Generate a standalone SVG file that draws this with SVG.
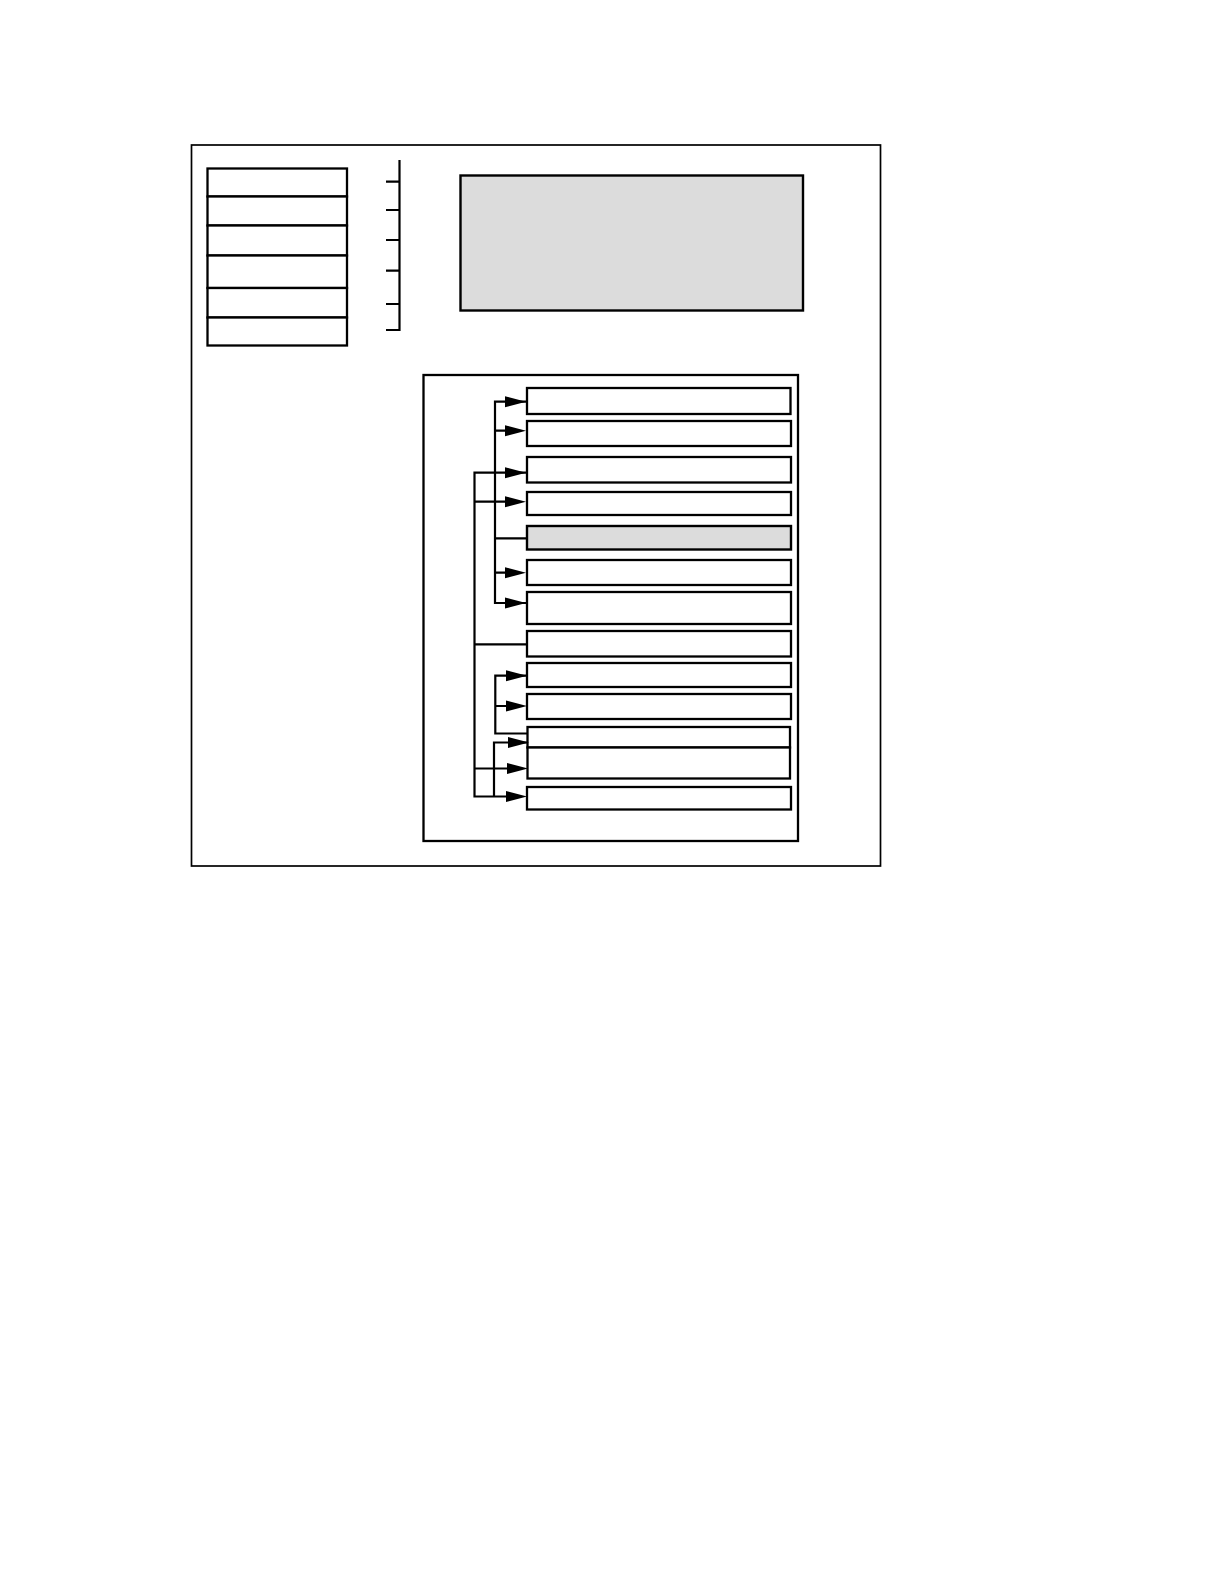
<svg xmlns="http://www.w3.org/2000/svg" width="1222" height="1582" viewBox="0 0 1222 1582">
<style>
.frame{fill:none;stroke:#000;stroke-width:1.7}
.box{fill:#fff;stroke:#000;stroke-width:2.3}
.gray{fill:#dcdcdc;stroke:#000;stroke-width:2.4}
.ln{fill:none;stroke:#000;stroke-width:2.2}
.ah{fill:#000;stroke:none}
</style>
<defs>
<polygon id="arr" points="0,0 -21,-5.5 -21,5.5"/>
</defs>
<rect width="1222" height="1582" fill="#fff"/>
<g id="outer-frame"><rect class="frame" x="191.5" y="145" width="689" height="721"/></g>
<g id="stack">
<rect class="box" x="207.5" y="168.5" width="139.5" height="28"/>
<rect class="box" x="207.5" y="196.5" width="139.5" height="29"/>
<rect class="box" x="207.5" y="225.5" width="139.5" height="30"/>
<rect class="box" x="207.5" y="255.5" width="139.5" height="32.5"/>
<rect class="box" x="207.5" y="288" width="139.5" height="29.5"/>
<rect class="box" x="207.5" y="317.5" width="139.5" height="28"/>
</g>
<g id="scale">
<path class="ln" d="M399.5 160V331M386 181.7H399.5M386 210H399.5M386 240H399.5M386 270.7H399.5M386 304H399.5M386 330H399.5"/>
</g>
<g id="gray-panel"><rect class="gray" x="460.5" y="175.5" width="342.5" height="135"/></g>
<g id="inner-frame"><rect class="box" x="423.5" y="375" width="374.5" height="466"/></g>
<g id="rows">
<rect class="box" x="527" y="388" width="263.5" height="26"/>
<rect class="box" x="527" y="421" width="264" height="25"/>
<rect class="box" x="527" y="457" width="264" height="25.5"/>
<rect class="box" x="527" y="492" width="264" height="23"/>
<rect class="gray" x="527" y="526" width="264" height="23.5"/>
<rect class="box" x="527" y="560" width="264" height="25"/>
<rect class="box" x="527" y="592" width="264" height="32"/>
<rect class="box" x="527" y="631" width="264" height="25.5"/>
<rect class="box" x="527" y="663" width="264" height="24"/>
<rect class="box" x="527" y="694" width="264" height="25"/>
<rect class="box" x="527.5" y="727" width="262.5" height="20.5"/>
<rect class="box" x="527.5" y="747.5" width="262.5" height="31"/>
<rect class="box" x="527" y="787" width="264" height="22.5"/>
</g>
<g id="connectors">
<path class="ln" d="M526 401.7H495V603H526M495 430.7H506M495 572.7H506M495 538.3H527"/>
<path class="ln" d="M526 472.7H474.5V796.5H506M474.5 501.7H506M474.5 644.3H527M474.5 768.5H508"/>
<path class="ln" d="M526 675.7H495.3V733.5H527M495.3 706H506"/>
<path class="ln" d="M528 742.5H494V796.5"/>
<use href="#arr" class="ah" x="526" y="401.7"/>
<use href="#arr" class="ah" x="526" y="430.7"/>
<use href="#arr" class="ah" x="526" y="472.7"/>
<use href="#arr" class="ah" x="526" y="501.7"/>
<use href="#arr" class="ah" x="526" y="572.7"/>
<use href="#arr" class="ah" x="526" y="603"/>
<use href="#arr" class="ah" x="527" y="675.7"/>
<use href="#arr" class="ah" x="527" y="706"/>
<use href="#arr" class="ah" x="529" y="742.5"/>
<use href="#arr" class="ah" x="528" y="768.5"/>
<use href="#arr" class="ah" x="527" y="796.5"/>
</g>
</svg>
